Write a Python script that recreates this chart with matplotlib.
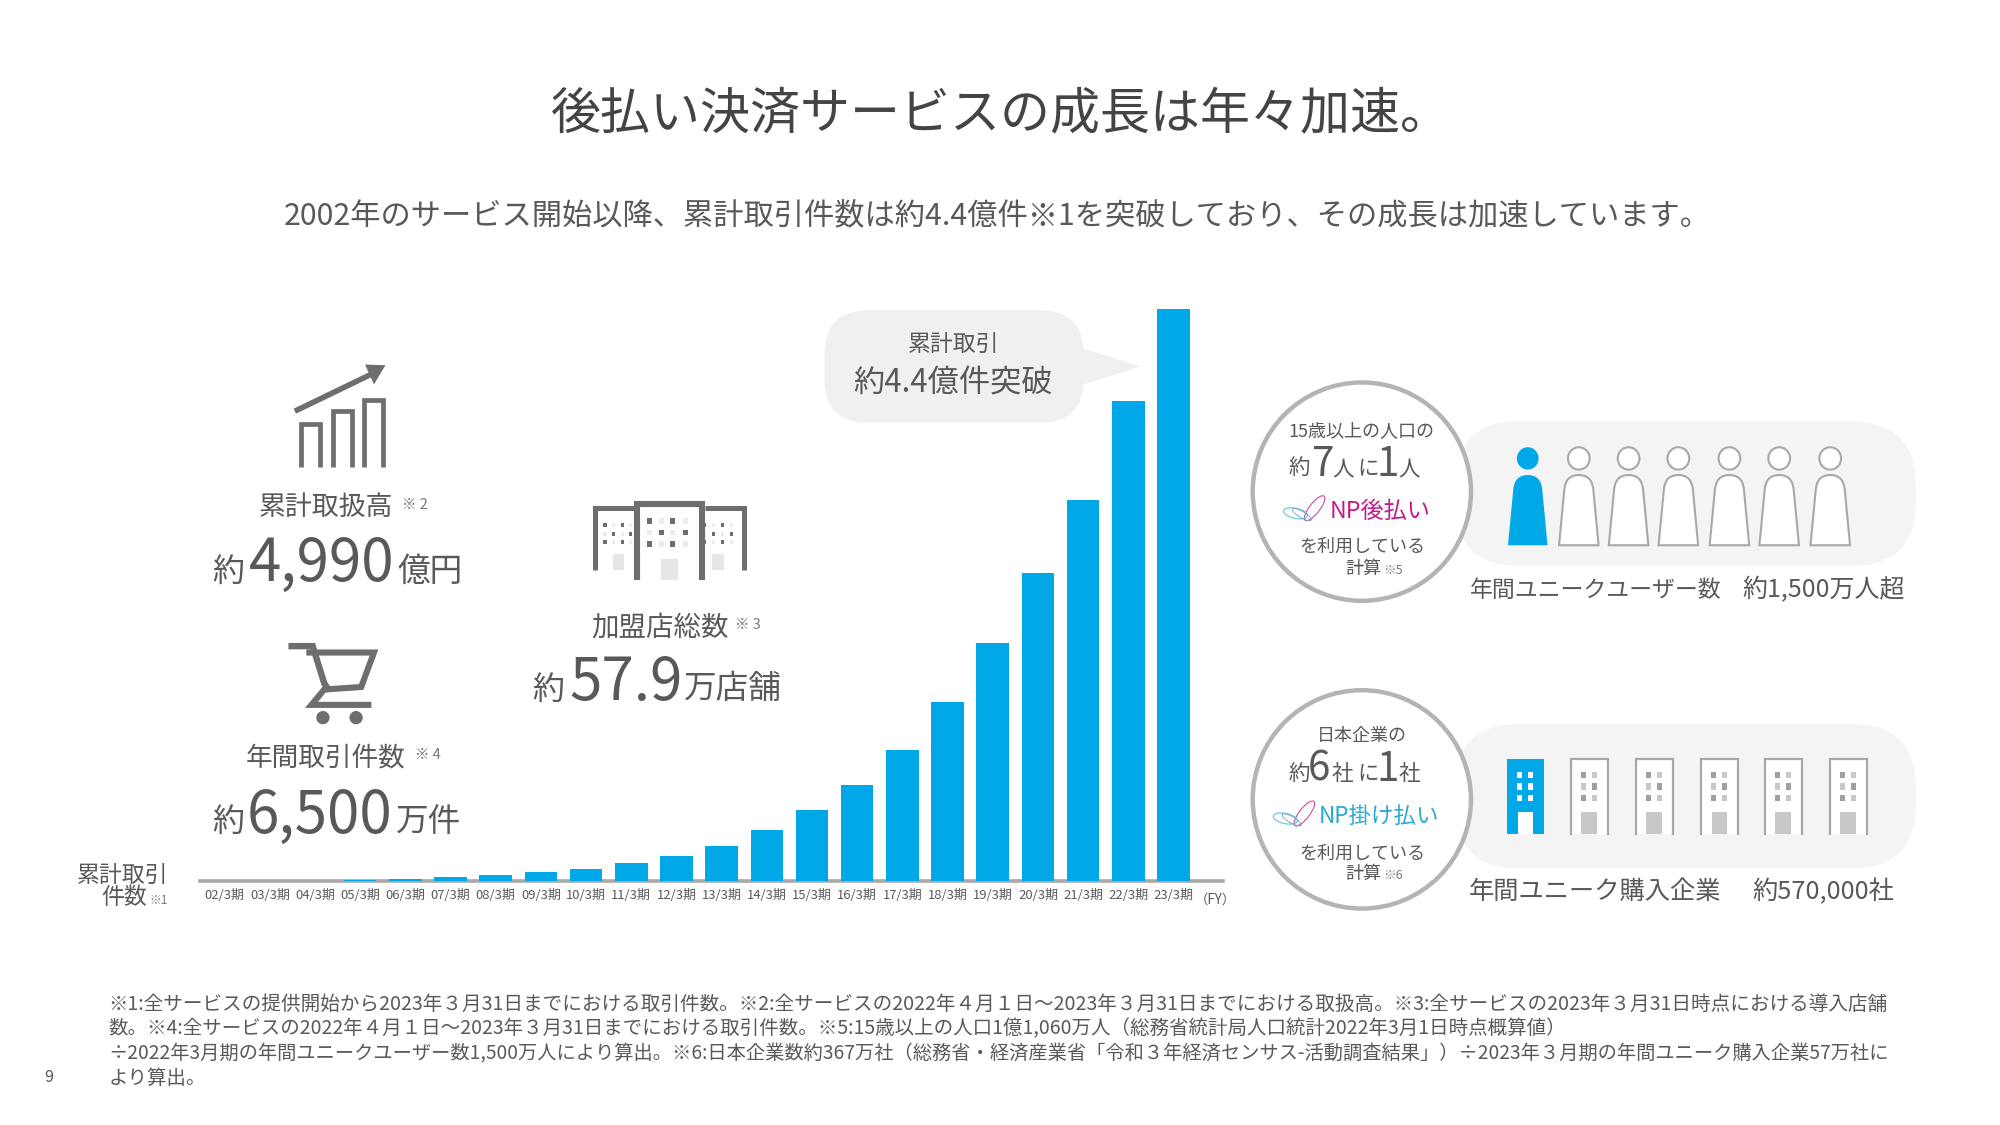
import matplotlib
matplotlib.use('Agg')
import matplotlib.pyplot as plt
from matplotlib.patches import Circle, Ellipse, FancyBboxPatch, PathPatch, Polygon, Rectangle
from matplotlib.path import Path

plt.rcParams['font.family'] = ['Noto Sans CJK JP', 'DejaVu Sans']

# cumulative transactions, 100M units
periods = ['02/3期', '03/3期', '04/3期', '05/3期', '06/3期', '07/3期', '08/3期', '09/3期',
           '10/3期', '11/3期', '12/3期', '13/3期', '14/3期', '15/3期', '16/3期', '17/3期',
           '18/3期', '19/3期', '20/3期', '21/3期', '22/3期', '23/3期']
cumulative = [0.0, 0.0, 0.0, 0.01, 0.02, 0.03, 0.05, 0.07, 0.09, 0.14, 0.19,
              0.27, 0.39, 0.55, 0.74, 1.01, 1.38, 1.83, 2.37, 2.93, 3.69, 4.40]

footnotes = [
    '※1:全サービスの提供開始から2023年３月31日までにおける取引件数。※2:全サービスの2022年４月１日～2023年３月31日までにおける取扱高。※3:全サービスの2023年３月31日時点における導入店舗',
    '数。※4:全サービスの2022年４月１日～2023年３月31日までにおける取引件数。※5:15歳以上の人口1億1,060万人（総務省統計局人口統計2022年3月1日時点概算値）',
    '÷2022年3月期の年間ユニークユーザー数1,500万人により算出。※6:日本企業数約367万社（総務省・経済産業省「令和３年経済センサス-活動調査結果」）÷2023年３月期の年間ユニーク購入企業57万社に',
    'より算出。',
]
footnote_sizes = [14.1, 14, 13.85, 14]

TXT = '#595959'
ICON = '#6e6e6e'
BLUE = '#00a8e8'
LINE = '#a8a8a8'
PANEL = '#f4f4f4'
W, H = 1567.0, 881.0

fig = plt.figure(figsize=(20, 11.25), dpi=100, facecolor='white')

# overlay in layout units
bg = fig.add_axes([0, 0, 1, 1])
bg.set_xlim(0, W)
bg.set_ylim(H, 0)
bg.axis('off')

# bar chart
ax = fig.add_axes([157 / W, 1 - 690 / H, (958 - 157) / W, (690 - 242) / H])
ax.patch.set_alpha(0)
ax.bar(range(len(periods)), cumulative, width=0.72, color=BLUE, zorder=3)
ax.set_xlim(-0.537, 22.09)
ax.set_ylim(0, 4.4)
for s in ['top', 'left', 'right']:
    ax.spines[s].set_visible(False)
ax.spines['bottom'].set_color(LINE)
ax.spines['bottom'].set_linewidth(2.6)
ax.set_yticks([])
ax.set_xticks(range(len(periods)))
ax.set_xticklabels(periods, fontsize=9.4, color=TXT)
ax.tick_params(axis='x', length=0, pad=6)


def t(x, y, s, size, color=TXT, ha='center', va='center', **kw):
    # centred CJK text sits a little high, nudge it down
    if va == 'center':
        y = y + 1.5
    return bg.text(x, y, s, fontsize=size, color=color, ha=ha, va=va, **kw)


def person(cx, color, face, lw):
    bg.add_patch(Ellipse((cx, 359), 17, 17.5, fc=face, ec=color, lw=lw, zorder=3))
    verts = [(cx - 15.5, 427), (cx - 11.5, 385), (cx - 11, 372), (cx, 372), (cx + 11, 372),
             (cx + 11.5, 385), (cx + 15.5, 427), (cx - 15.5, 427)]
    codes = [Path.MOVETO, Path.LINETO, Path.CURVE3, Path.CURVE3, Path.CURVE3, Path.CURVE3,
             Path.LINETO, Path.CLOSEPOLY]
    bg.add_patch(PathPatch(Path(verts, codes), fc=face, ec=color, lw=lw, zorder=3))


def office(cx, blue):
    x0, x1, y0, y1 = cx - 14.5, cx + 14.5, 594, 653
    if blue:
        bg.add_patch(Rectangle((x0, y0), 29, 59, fc=BLUE, ec='none', zorder=3))
        door, win = 'white', ['white'] * 6
    else:
        bg.add_patch(Rectangle((x0, y0), 29, 59, fc='white', ec='none', zorder=3))
        bg.plot([x0, x0, x1, x1], [y1, y0, y0, y1], color=LINE, lw=1.6, zorder=4,
                solid_joinstyle='miter')
        door, win = '#c8c8c8', ['#a0a0a0', '#c8c8c8', '#c8c8c8', '#a0a0a0', '#a0a0a0', '#c8c8c8']
    bg.add_patch(Rectangle((cx - 6, 636), 12, 17, fc=door, ec='none', zorder=4))
    k = 0
    for wy in (607, 616, 625):
        for wx in (-4.6, 4.4):
            bg.add_patch(Rectangle((cx + wx - 1.9, wy - 2.5), 3.8, 5, fc=win[k], ec='none', zorder=4))
            k += 1


def logo(x, y):
    # thin swirl mark next to the product name
    bg.add_patch(Ellipse((x + 24, y - 2), 8, 24, angle=38, fc='none', ec='#d8489c', lw=0.8, zorder=4))
    bg.add_patch(Ellipse((x + 9, y + 2), 19, 8, angle=12, fc='none', ec='#5cc3dc', lw=0.8, zorder=4))
    bg.add_patch(Ellipse((x + 14, y + 3), 17, 5, angle=30, fc='none', ec='#6a9fc8', lw=0.6, zorder=4))


# titles
t(784, 89, '後払い決済サービスの成長は年々加速。', 36, color='#444444')
t(781, 168, '2002年のサービス開始以降、累計取引件数は約4.4億件※1を突破しており、その成長は加速しています。', 21.8)

# callout bubble
bg.add_patch(FancyBboxPatch((646, 243), 203, 88, boxstyle='round,pad=0,rounding_size=34',
                            fc='#f0f0f0', ec='none', zorder=1))
bg.add_patch(Polygon([(846, 272), (894, 287), (846, 302)], fc='#f0f0f0', ec='none', zorder=1))
t(747, 268, '累計取引', 16.5, zorder=5)
t(747, 299, '約4.4億件突破', 22.5, zorder=5)

# chart icon
for x0, x1, top in [(236, 251, 332), (261, 276, 322), (285, 300, 313)]:
    bg.plot([x0, x0, x1, x1], [366, top, top, 366], color=ICON, lw=3.4, solid_joinstyle='miter',
            solid_capstyle='butt')
bg.plot([231, 291], [322, 293], color=ICON, lw=4, solid_capstyle='butt')
bg.add_patch(Polygon([(302, 286), (286, 285.5), (293, 301)], fc=ICON, ec='none'))

# cart icon
bg.plot([226, 245, 254, 258], [506, 506, 535, 541], color=ICON, lw=4.6, solid_joinstyle='miter',
        solid_capstyle='butt')
bg.plot([240, 293, 283, 254, 244, 291], [511, 511, 538, 540, 552, 552], color=ICON, lw=4.4,
        solid_joinstyle='miter', solid_capstyle='butt')
bg.add_patch(Circle((253, 562), 5.2, fc=ICON, ec='none'))
bg.add_patch(Circle((279, 562), 5.2, fc=ICON, ec='none'))

# shops icon
bg.plot([466, 466, 497], [446, 398, 398], color=ICON, lw=3.6, solid_joinstyle='miter', solid_capstyle='butt')
bg.plot([552, 583, 583], [398, 398, 446], color=ICON, lw=3.6, solid_joinstyle='miter', solid_capstyle='butt')
bg.plot([499, 499, 550, 550], [454, 395, 395, 454], color=ICON, lw=4.4, solid_joinstyle='miter',
        solid_capstyle='butt')
bg.add_patch(Rectangle((518, 438), 13, 16, fc='#e6e6e6', ec='none'))
bg.add_patch(Rectangle((480, 434), 9, 12, fc='#e6e6e6', ec='none'))
bg.add_patch(Rectangle((558, 434), 9, 12, fc='#e6e6e6', ec='none'))
for r, wy in enumerate((408, 417, 426)):
    for c, wx in enumerate((509, 518, 527, 537)):
        col = ICON if (r + c) % 2 == 0 else '#ececec'
        bg.add_patch(Rectangle((wx - 2, wy - 2), 4, 4, fc=col, ec='none'))
for r, wy in enumerate((411, 418, 424.5)):
    for c, wx in enumerate((474, 481, 488, 494, 552, 559, 566, 573)):
        col = ICON if (r + c) % 2 == 0 else '#ececec'
        bg.add_patch(Rectangle((wx - 1.2, wy - 1.5), 2.4, 3, fc=col, ec='none'))

# KPI blocks
t(255, 396, '累計取扱高', 19.4)
t(325, 394, '※ 2', 10.5, color='#7a7a7a')
t(166, 455, '約', 23, ha='left', va='baseline')
t(195, 455, '4,990', 42, ha='left', va='baseline')
t(311, 455, '億円', 23.5, ha='left', va='baseline')

t(255, 592, '年間取引件数', 19.2)
t(335, 590, '※ 4', 10.5, color='#7a7a7a')
t(166, 651, '約', 23, ha='left', va='baseline')
t(193, 652, '6,500', 42, ha='left', va='baseline')
t(310, 651, '万件', 23.5, ha='left', va='baseline')

t(517, 490, '加盟店総数', 19.8)
t(586, 488, '※ 3', 10.5, color='#7a7a7a')
t(417, 547, '約', 23, ha='left', va='baseline')
t(446, 548, '57.9', 42, ha='left', va='baseline')
t(536, 547, '万店舗', 23.5, ha='left', va='baseline')

# axis note and last label suffix
t(132, 684, '累計取引', 16.5, ha='right')
t(115, 701, '件数', 16.5, ha='right')
t(117, 704, '※1', 8.5, ha='left', color='#7a7a7a')
t(936, 703, '（FY）', 9.6, ha='left')

# right panels
for y0 in (330, 567):
    bg.add_patch(FancyBboxPatch((1140, y0), 361, 113, boxstyle='round,pad=0,rounding_size=50',
                                fc=PANEL, ec='none', zorder=1))
for cy in (385, 626):
    bg.add_patch(Circle((1067, cy), 85.5, fc='white', ec='#b4b4b4', lw=3.2, zorder=2))

person(1197, BLUE, BLUE, 0)
for cx in (1237, 1276, 1315, 1355, 1394, 1434):
    person(cx, LINE, 'white', 1.5)
office(1195, True)
for cx in (1245, 1296, 1347, 1397, 1448):
    office(cx, False)

t(1067, 336, '15歳以上の人口の', 13, zorder=5)
t(1018, 366, '約', 15.5, zorder=5)
t(1037, 362, '7', 29, zorder=5)
t(1052, 366, '人', 15.5, zorder=5)
t(1072, 366, 'に', 15.5, zorder=5)
t(1087, 362, '1', 29, zorder=5)
t(1104, 366, '人', 15.5, zorder=5)
logo(1006, 400)
t(1042, 399, 'NP後払い', 16.7, color='#c4198c', ha='left', zorder=5)
t(1067, 427, 'を利用している', 13, zorder=5)
t(1054, 444, '計算', 13, ha='left', zorder=5)
t(1084, 445, '※5', 9, ha='left', color='#7a7a7a', zorder=5)

t(1067, 575, '日本企業の', 13, zorder=5)
t(1018, 605, '約', 15.5, zorder=5)
t(1033, 601, '6', 29, zorder=5)
t(1052, 605, '社', 15.5, zorder=5)
t(1072, 605, 'に', 15.5, zorder=5)
t(1087, 601, '1', 29, zorder=5)
t(1104, 605, '社', 15.5, zorder=5)
logo(998, 639)
t(1033, 638, 'NP掛け払い', 16.2, color='#2aa9d2', ha='left', zorder=5)
t(1067, 667, 'を利用している', 13, zorder=5)
t(1054, 683, '計算', 13, ha='left', zorder=5)
t(1084, 684, '※6', 9, ha='left', color='#7a7a7a', zorder=5)

t(1152, 461, '年間ユニークユーザー数', 16.5, ha='left')
t(1365, 461, '約1,500万人超', 18, ha='left')
t(1151, 697, '年間ユニーク購入企業', 18.2, ha='left')
t(1373, 697, '約570,000社', 18.2, ha='left')

# footnotes and page number
for y, line, size in zip((785, 804, 824, 843), footnotes, footnote_sizes):
    t(85, y, line, size, ha='left')
t(38, 842, '9', 11.5)

fig.savefig('out.png', dpi=100, facecolor='white')
